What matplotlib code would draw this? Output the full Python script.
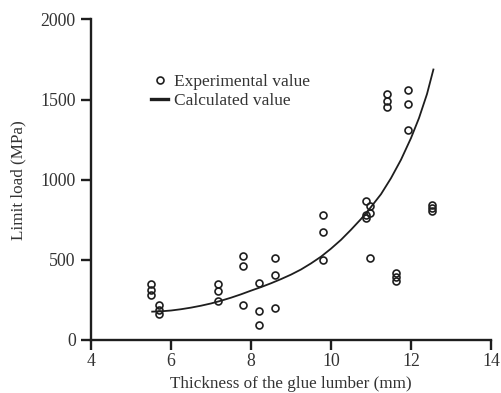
import matplotlib
matplotlib.use("Agg")
import matplotlib.pyplot as plt

# Experimental values (thickness mm, limit load MPa)
exp_x = [5.50, 5.50, 5.50, 5.69, 5.69, 5.69, 7.17, 7.17, 7.17,
         7.80, 7.80, 7.80, 8.20, 8.20, 8.20, 8.60, 8.60, 8.60,
         9.81, 9.81, 9.81, 10.87, 10.87, 10.87, 10.97, 10.97, 10.97,
         11.39, 11.39, 11.39, 11.93, 11.93, 11.93, 11.62, 11.62, 11.62,
         12.53, 12.53, 12.53]
exp_y = [350, 315, 280, 220, 190, 165, 350, 308, 242,
         527, 464, 216, 354, 180, 94, 514, 404, 198,
         779, 675, 498, 869, 781, 760, 835, 792, 512,
         1535, 1494, 1452, 1558, 1473, 1308, 415, 392, 370,
         845, 825, 805]

# Calculated curve
calc_x = [5.53, 5.75, 6.0, 6.25, 6.5, 6.75, 7.0, 7.25, 7.5, 7.75, 8.0, 8.25,
          8.5, 8.75, 9.0, 9.25, 9.5, 9.75, 10.0, 10.25, 10.5, 10.75, 11.0,
          11.25, 11.5, 11.75, 12.0, 12.2, 12.4, 12.56]
calc_y = [177, 179, 184, 192, 202, 214, 228, 245, 264, 285, 308, 330,
          354, 380, 408, 440, 478, 520, 570, 625, 688, 755, 830,
          910, 1010, 1125, 1260, 1385, 1535, 1688]

x_ticks = [4, 6, 8, 10, 12, 14]
y_ticks = [0, 500, 1000, 1500, 2000]

plt.rcParams['font.family'] = ['Liberation Serif', 'DejaVu Serif']
ink = '#1e1e1e'

fig = plt.figure(figsize=(5.01, 3.93), dpi=100)
ax = fig.add_axes([91/501, 53/393, 400/501, 320.5/393])

ax.plot(calc_x, calc_y, color=ink, lw=1.3, label='Calculated value', zorder=2)
ax.plot(exp_x, exp_y, ls='none', marker='o', ms=5, mfc='none', mec=ink,
        mew=1.2, label='Experimental value', zorder=3)

ax.set_xlim(4, 14)
ax.set_ylim(0, 2000)
ax.set_xticks(x_ticks)
ax.set_yticks(y_ticks)
for s in ['top', 'right']:
    ax.spines[s].set_visible(False)
for s in ['left', 'bottom']:
    ax.spines[s].set_linewidth(1.7)
    ax.spines[s].set_color(ink)
ax.tick_params(axis='both', direction='out', length=7.5, width=1.7,
               color=ink, labelsize=12.8, labelcolor='#333333')
ax.tick_params(axis='x', pad=1.5)
ax.tick_params(axis='y', pad=3.5)

ax.set_xlabel('Thickness of the glue lumber (mm)', fontsize=12.3,
              color='#333333', labelpad=5)
ax.set_ylabel('Limit load (MPa)', fontsize=12.3, color='#333333', labelpad=10)

h, l = ax.get_legend_handles_labels()
leg = ax.legend([h[1], h[0]], [l[1], l[0]], loc='upper left',
                bbox_to_anchor=(0.15, 0.83), frameon=False,
                handlelength=1.0, handletextpad=0.3, labelspacing=0.15,
                borderpad=0, borderaxespad=0, fontsize=12.5)
for t in leg.get_texts():
    t.set_color('#333333')
leg.legend_handles[1].set_linewidth(2.4)

fig.savefig('out.png', dpi=100)
